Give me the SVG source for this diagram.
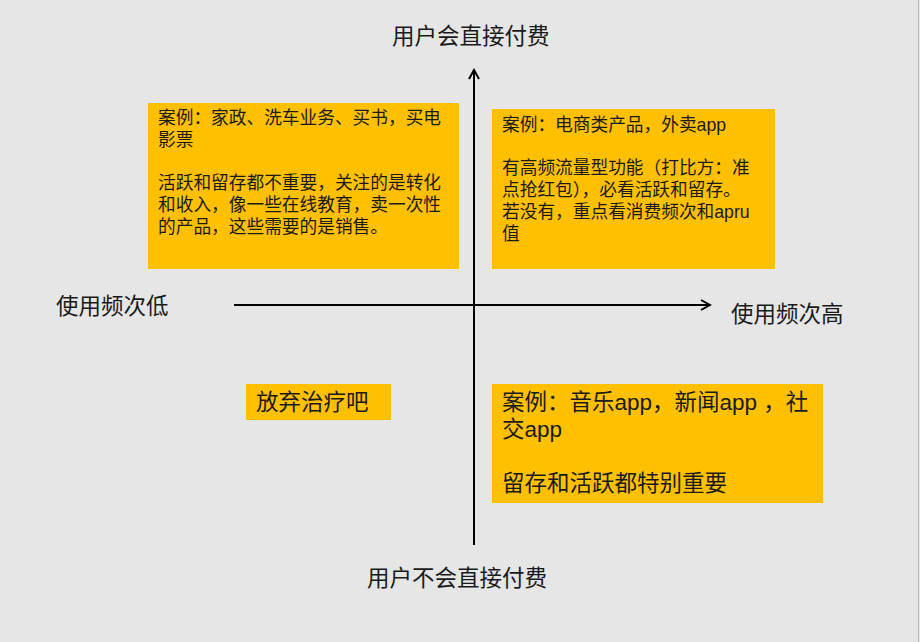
<svg xmlns="http://www.w3.org/2000/svg" width="920" height="642" viewBox="0 0 920 642">
<defs>
<style>
.t{font-family:"Liberation Sans","Noto Sans CJK SC",sans-serif;fill:#1a1a1a}
.lab{font-size:22.5px}
.b{fill:#FFC000}
.s{font-size:17.7px}
.m{font-size:22.5px}
.ax{stroke:#000;stroke-width:2;fill:none}
</style>
<marker id="ah" viewBox="0 0 12 12" refX="10" refY="6" markerWidth="12" markerHeight="12" markerUnits="userSpaceOnUse" orient="auto">
<path d="M1,1 L10,6 L1,11" fill="none" stroke="#000" stroke-width="2"/>
</marker>
</defs>
<rect x="0" y="0" width="920" height="642" fill="#e6e6e6"/>
<line x1="918.5" y1="0" x2="918.5" y2="642" stroke="#bdbdbd" stroke-width="1"/>
<g id="connectors">
<line class="ax" x1="474" y1="545" x2="474" y2="70" marker-end="url(#ah)"/>
<line class="ax" x1="234" y1="305" x2="710" y2="305" marker-end="url(#ah)"/>
</g>
<g id="label-top"><text class="t lab" x="392" y="44">用户会直接付费</text></g>
<g id="label-bottom"><text class="t lab" x="367" y="586">用户不会直接付费</text></g>
<g id="label-left"><text class="t lab" x="56" y="314">使用频次低</text></g>
<g id="label-right"><text class="t lab" x="731" y="322">使用频次高</text></g>
<g id="box-tl">
<rect class="b" x="148" y="103" width="311" height="166"/>
<text class="t s" x="158" y="124">案例：家政、洗车业务、买书，买电</text>
<text class="t s" x="158" y="146">影票</text>
<text class="t s" x="158" y="189">活跃和留存都不重要，关注的是转化</text>
<text class="t s" x="158" y="211">和收入，像一些在线教育，卖一次性</text>
<text class="t s" x="158" y="233">的产品，这些需要的是销售。</text>
</g>
<g id="box-tr">
<rect class="b" x="492" y="109" width="283" height="160"/>
<text class="t s" x="502" y="131">案例：电商类产品，外卖app</text>
<text class="t s" x="502" y="174">有高频流量型功能（打比方：准</text>
<text class="t s" x="502" y="196">点抢红包），必看活跃和留存。</text>
<text class="t s" x="502" y="218">若没有，重点看消费频次和apru</text>
<text class="t s" x="502" y="240">值</text>
</g>
<g id="box-bl">
<rect class="b" x="246" y="384" width="145" height="36"/>
<text class="t m" x="256" y="410">放弃治疗吧</text>
</g>
<g id="box-br">
<rect class="b" x="492" y="384" width="331" height="119"/>
<text class="t m" x="502" y="410">案例：音乐app，新闻app ，社</text>
<text class="t m" x="502" y="437">交app</text>
<text class="t m" x="502" y="491">留存和活跃都特别重要</text>
</g>
</svg>
